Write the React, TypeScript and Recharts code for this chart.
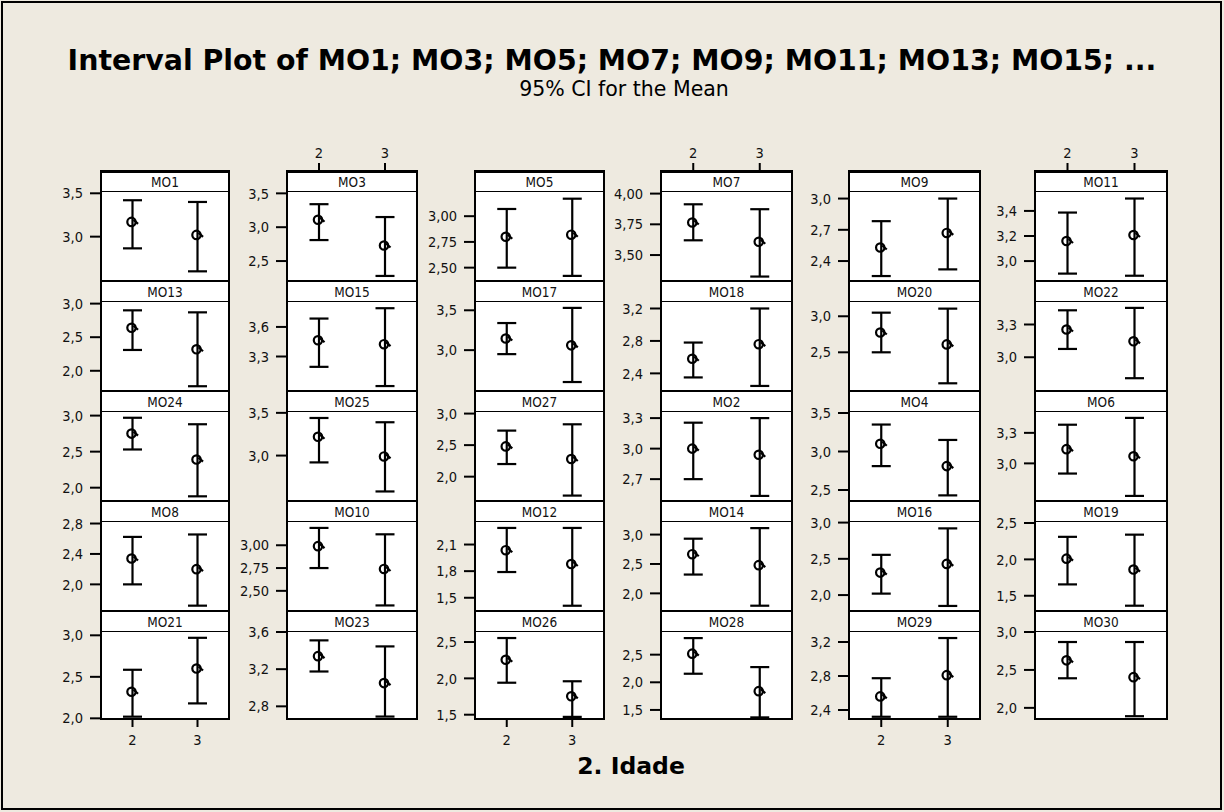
import React from 'react';
import { ScatterChart, Scatter, XAxis, YAxis, ErrorBar } from 'recharts';

// panels in grid order (6 per row)
const panelNames = [
  'MO1', 'MO3', 'MO5', 'MO7', 'MO9', 'MO11',
  'MO13', 'MO15', 'MO17', 'MO18', 'MO20', 'MO22',
  'MO24', 'MO25', 'MO27', 'MO2', 'MO4', 'MO6',
  'MO8', 'MO10', 'MO12', 'MO14', 'MO16', 'MO19',
  'MO21', 'MO23', 'MO26', 'MO28', 'MO29', 'MO30',
];
const levels = [2, 3];

const mean2 = [
  3.17, 3.11, 2.8, 3.765, 2.53, 3.16,
  2.64, 3.465, 3.146, 2.58, 2.775, 3.254,
  2.75, 3.22, 2.48, 3.0, 3.1, 3.14,
  2.34, 2.99, 2.036, 2.666, 2.31, 2.01,
  2.32, 3.34, 2.256, 2.518, 2.56, 2.626,
];
const low2 = [
  2.865, 2.81, 2.5, 3.62, 2.256, 2.9,
  2.31, 3.195, 2.95, 2.35, 2.5, 3.076,
  2.53, 2.92, 2.2, 2.7, 2.81, 2.9,
  2.0, 2.75, 1.79, 2.32, 2.02, 1.656,
  2.02, 3.175, 1.94, 2.155, 2.32, 2.39,
];
const high2 = [
  3.42, 3.34, 3.07, 3.913, 2.783, 3.387,
  2.9, 3.685, 3.34, 2.78, 3.05, 3.43,
  2.97, 3.44, 2.73, 3.255, 3.35, 3.38,
  2.624, 3.19, 2.287, 2.93, 2.555, 2.31,
  2.585, 3.51, 2.555, 2.8, 2.774, 2.868,
];
const mean3 = [
  3.02, 2.73, 2.82, 3.608, 2.67, 3.208,
  2.32, 3.425, 3.06, 2.76, 2.61, 3.146,
  2.39, 2.99, 2.28, 2.94, 2.81, 3.07,
  2.2, 2.74, 1.88, 2.48, 2.43, 1.86,
  2.6, 3.05, 1.753, 1.84, 2.81, 2.405,
];
const low3 = [
  2.6, 2.28, 2.42, 3.325, 2.32, 2.883,
  1.77, 3.0, 2.6, 2.245, 2.07, 2.808,
  1.88, 2.58, 1.7, 2.535, 2.43, 2.68,
  1.72, 2.34, 1.41, 1.79, 1.85, 1.363,
  2.18, 2.69, 1.47, 1.365, 2.32, 1.89,
];
const high3 = [
  3.4, 3.15, 3.17, 3.873, 3.0, 3.499,
  2.87, 3.79, 3.53, 3.2, 3.106, 3.452,
  2.88, 3.39, 2.83, 3.3, 3.15, 3.447,
  2.656, 3.12, 2.287, 3.11, 2.92, 2.34,
  2.97, 3.445, 1.96, 2.275, 3.247, 2.868,
];

// y range of each panel's data area
const yMin = [
  2.5, 2.22, 2.38, 3.297, 2.218, 2.849,
  1.714, 2.96, 2.5, 2.195, 1.977, 2.7,
  1.829, 2.48, 1.63, 2.495, 2.37, 2.64,
  1.663, 2.29, 1.362, 1.717, 1.794, 1.304,
  1.98, 2.653, 1.427, 1.318, 2.282, 1.84,
];
const yMax = [
  3.515, 3.52, 3.235, 4.013, 3.063, 3.551,
  3.024, 3.853, 3.604, 3.28, 3.198, 3.506,
  3.05, 3.51, 3.025, 3.36, 3.513, 3.505,
  2.82, 3.255, 2.354, 3.214, 3.008, 2.514,
  3.04, 3.6, 2.638, 2.91, 3.318, 3.0,
];
const yTicks = [
  [2.5, 3, 3.5], [2.5, 3, 3.5], [2.5, 2.75, 3], [3.5, 3.75, 4], [2.4, 2.7, 3], [3, 3.2, 3.4],
  [2, 2.5, 3], [3, 3.3, 3.6], [2.5, 3, 3.5], [2.4, 2.8, 3.2], [2, 2.5, 3], [2.7, 3, 3.3],
  [2, 2.5, 3], [2.5, 3, 3.5], [2, 2.5, 3], [2.7, 3, 3.3], [2.5, 3, 3.5], [2.7, 3, 3.3],
  [2, 2.4, 2.8], [2.5, 2.75, 3], [1.5, 1.8, 2.1], [2, 2.5, 3], [2, 2.5, 3], [1.5, 2, 2.5],
  [2, 2.5, 3], [2.8, 3.2, 3.6], [1.5, 2, 2.5], [1.5, 2, 2.5], [2.4, 2.8, 3.2], [2, 2.5, 3],
];
const yDecimals = [
  1, 1, 2, 2, 1, 1,
  1, 1, 1, 1, 1, 1,
  1, 1, 1, 1, 1, 1,
  1, 2, 1, 1, 1, 1,
  1, 1, 1, 1, 1, 1,
];

const FONT = '"DejaVu Sans", Verdana, sans-serif';
const SMALL_FONT = '"DejaVu Sans Condensed", "Liberation Sans", sans-serif';
const BG = '#EEEAE0';
const COL_LEFT = [100, 286, 474, 660, 848, 1034];
const COL_W = [130, 132, 131, 133, 133, 134];
const ROW_TOP = 170;
const PANEL_H = 110;
const STRIP_H = 22;
const PLOT_H = PANEL_H - STRIP_H;
const Y_W = 60;
const TOP_AX = 26;
const BOT_AX = 34;

const MeanMark = (props: any) => {
  const { cx, cy } = props;
  if (cx == null || cy == null) return null;
  return (
    <g>
      <circle cx={cx - 1} cy={cy} r={4.2} fill="none" stroke="#000" strokeWidth={2.2} />
      <path d={`M${cx + 1},${cy - 2} L${cx + 5.5},${cy + 2}`} stroke="#000" strokeWidth={2.2} />
    </g>
  );
};

const fmt = (v: number, d: number) => v.toFixed(d).replace('.', ',');

const Panel = ({ i }: { i: number }) => {
  const row = Math.floor(i / 6);
  const col = i % 6;
  const left = COL_LEFT[col];
  const w = COL_W[col];
  const top = ROW_TOP + row * PANEL_H;
  const lo = yMin[i];
  // the strip sits on top of the data area, so stretch the domain over it
  const hiExt = lo + ((yMax[i] - lo) * PANEL_H) / PLOT_H;
  const topAxis = row === 0 && col % 2 === 1;
  const bottomAxis = row === 4 && col % 2 === 0;
  const data = [
    { x: levels[0], y: mean2[i], err: [mean2[i] - low2[i], high2[i] - mean2[i]] },
    { x: levels[1], y: mean3[i], err: [mean3[i] - low3[i], high3[i] - mean3[i]] },
  ];
  const chartTop = top - (topAxis ? TOP_AX : 0);
  const chartH = PANEL_H + (topAxis ? TOP_AX : 0) + (bottomAxis ? BOT_AX : 0);
  const tickStyle = { fill: '#111', fontSize: 14.5, fontFamily: SMALL_FONT };

  return (
    <>
      <div style={{ position: 'absolute', left, top, width: w, height: PANEL_H, background: '#fff' }} />
      <div style={{ position: 'absolute', left: left - Y_W, top: chartTop }}>
        <ScatterChart width={w + Y_W} height={chartH} margin={{ top: 0, right: 0, bottom: 0, left: 0 }}>
          <XAxis
            type="number"
            dataKey="x"
            domain={[1.5, 3.5]}
            ticks={levels}
            allowDataOverflow
            hide={!topAxis && !bottomAxis}
            orientation={topAxis ? 'top' : 'bottom'}
            height={topAxis ? TOP_AX : BOT_AX}
            axisLine={false}
            tickSize={7}
            tickMargin={topAxis ? 5 : 8}
            tick={tickStyle}
            tickLine={{ stroke: '#000', strokeWidth: 2 }}
          />
          <YAxis
            type="number"
            dataKey="y"
            domain={[lo, hiExt]}
            ticks={yTicks[i]}
            allowDataOverflow
            width={Y_W}
            axisLine={false}
            tickSize={10}
            tickMargin={7}
            tick={tickStyle}
            tickLine={{ stroke: '#000', strokeWidth: 2 }}
            tickFormatter={(v: number) => fmt(v, yDecimals[i])}
          />
          <Scatter data={data} isAnimationActive={false} shape={MeanMark}>
            <ErrorBar dataKey="err" direction="y" width={9.5} stroke="#000" strokeWidth={2.2} isAnimationActive={false} />
          </Scatter>
        </ScatterChart>
      </div>
      <div
        style={{
          position: 'absolute',
          left,
          top,
          width: w,
          height: STRIP_H,
          boxSizing: 'border-box',
          background: '#fff',
          borderTop: `${row === 0 ? 3 : 2.5}px solid #000`,
          borderBottom: '1.5px solid #000',
          borderLeft: '2px solid #000',
          borderRight: '2px solid #000',
          display: 'flex',
          alignItems: 'center',
          justifyContent: 'center',
          fontFamily: SMALL_FONT,
          fontSize: 13.5,
          color: '#111',
        }}
      >
        {panelNames[i]}
      </div>
      <div
        style={{
          position: 'absolute',
          left,
          top,
          width: w,
          height: PANEL_H,
          boxSizing: 'border-box',
          borderLeft: '2px solid #000',
          borderRight: '2px solid #000',
          borderBottom: row === 4 ? '2.5px solid #000' : 'none',
          pointerEvents: 'none',
        }}
      />
    </>
  );
};

export default function App() {
  return (
    <div
      style={{
        position: 'absolute',
        left: 0,
        top: 0,
        width: 1224,
        height: 812,
        background: BG,
        fontFamily: FONT,
        overflow: 'hidden',
      }}
    >
      <svg width={1224} height={812} style={{ position: 'absolute', left: 0, top: 0 }}>
        <rect x={2} y={2} width={1219} height={807} fill="none" stroke="#000" strokeWidth={2} />
        <text x={612} y={70} textAnchor="middle" fontFamily={FONT} fontWeight="bold" fontSize={28.4} fill="#000">
          Interval Plot of MO1; MO3; MO5; MO7; MO9; MO11; MO13; MO15; ...
        </text>
        <text x={624} y={96} textAnchor="middle" fontFamily={FONT} fontSize={20.5} fill="#000">
          95% CI for the Mean
        </text>
        <text x={631} y={774} textAnchor="middle" fontFamily={FONT} fontWeight="bold" fontSize={23.5} fill="#000">
          2. Idade
        </text>
      </svg>
      {panelNames.map((_n, i) => (
        <Panel key={i} i={i} />
      ))}
    </div>
  );
}
